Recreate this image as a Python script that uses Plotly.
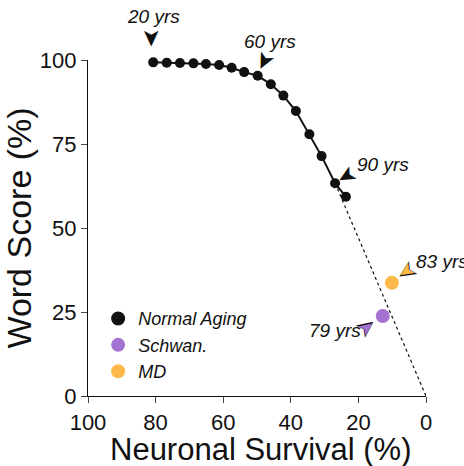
import plotly.graph_objects as go

# Normal aging (20..95 yrs in 5-yr steps)
aging_survival = [80.7, 76.7, 72.8, 68.8, 65.1, 61.2, 57.5, 53.8, 49.8, 45.9, 42.2, 38.5, 34.5, 30.9, 26.9, 23.7]
aging_score = [99.3, 99.2, 99.1, 99.0, 98.8, 98.5, 97.7, 96.4, 95.3, 92.8, 89.4, 84.8, 77.9, 71.4, 63.3, 59.3]

schwan_survival = [12.8]
schwan_score = [23.8]
md_survival = [10.1]
md_score = [33.7]

# extrapolation line from the 90-yr point to origin
extrap_x = [26.9, 0]
extrap_y = [63.3, 0]

x_ticks = [100, 80, 60, 40, 20, 0]
y_ticks = [0, 25, 50, 75, 100]

X_RANGE = [100, 0]
Y_RANGE = [0, 100]

# age labels (in data units)
age_labels = ["20 yrs", "60 yrs", "90 yrs", "83 yrs", "79 yrs"]
label_x = [80.5, 46.2, 12.8, -4.6, 26.8]
label_y = [112.8, 105.4, 68.8, 39.9, 19.6]
# arrowhead centres (data units) and pointing direction (screen degrees, clockwise from right)
head_x = [81.1, 47.6, 23.4, 5.6, 17.8]
head_y = [106.5, 99.7, 65.2, 36.9, 20.5]
head_dir = [90, 117, 150, 147, -37]
head_color = ["#111111", "#111111", "#111111", "#FDB94A", "#A473D1"]

BLACK = "#111111"
PURPLE = "#A473D1"
ORANGE = "#FDBA4B"
FONT = "Liberation Sans, Arial, sans-serif"


def to_paper(x, y):
    px = (x - X_RANGE[0]) / (X_RANGE[1] - X_RANGE[0])
    py = (y - Y_RANGE[0]) / (Y_RANGE[1] - Y_RANGE[0])
    return px, py


fig = go.Figure()

fig.add_trace(go.Scatter(x=extrap_x, y=extrap_y, mode="lines",
                         line=dict(color=BLACK, width=1.2, dash="3px,3px"),
                         showlegend=False, hoverinfo="skip"))
fig.add_trace(go.Scatter(x=aging_survival, y=aging_score, mode="lines+markers",
                         line=dict(color=BLACK, width=2),
                         marker=dict(color=BLACK, size=10),
                         showlegend=False, cliponaxis=False))
fig.add_trace(go.Scatter(x=schwan_survival, y=schwan_score, mode="markers",
                         marker=dict(color=PURPLE, size=14),
                         showlegend=False, cliponaxis=False))
fig.add_trace(go.Scatter(x=md_survival, y=md_score, mode="markers",
                         marker=dict(color=ORANGE, size=14),
                         showlegend=False, cliponaxis=False))

# legend entries
for name, col in [("Normal Aging", BLACK), ("Schwan.", PURPLE), ("MD", ORANGE)]:
    fig.add_trace(go.Scatter(x=[None], y=[None], mode="markers", name=name,
                             marker=dict(color=col, size=14)))

for t, tx, ty in zip(age_labels, label_x, label_y):
    px, py = to_paper(tx, ty)
    fig.add_annotation(x=px, y=py, xref="paper", yref="paper", text=f"<i>{t}</i>",
                       xanchor="center", yanchor="middle",
                       showarrow=False, font=dict(size=19, color=BLACK, family=FONT))

for hx, hy, d, col in zip(head_x, head_y, head_dir, head_color):
    px, py = to_paper(hx, hy)
    if col != BLACK:
        fig.add_annotation(x=px, y=py, xref="paper", yref="paper", text="\u27A4",
                           xanchor="center", yanchor="middle", textangle=d,
                           showarrow=False, font=dict(size=24, color=BLACK, family="DejaVu Sans"))
        fig.add_annotation(x=px, y=py, xref="paper", yref="paper", text="\u27A4",
                           xanchor="center", yanchor="middle", textangle=d,
                           showarrow=False, font=dict(size=19, color=col, family="DejaVu Sans"))
    else:
        fig.add_annotation(x=px, y=py, xref="paper", yref="paper", text="\u27A4",
                           xanchor="center", yanchor="middle", textangle=d,
                           showarrow=False, font=dict(size=23, color=col, family="DejaVu Sans"))

# x-axis title placed as paper annotation
fig.add_annotation(x=0.512, y=-0.158, xref="paper", yref="paper",
                   text="Neuronal Survival (%)", xanchor="center", yanchor="middle",
                   showarrow=False, font=dict(size=31, color=BLACK, family=FONT))

fig.update_layout(
    width=464, height=466,
    margin=dict(l=88, r=38, t=60, b=70),
    paper_bgcolor="white", plot_bgcolor="white",
    font=dict(family=FONT, color=BLACK),
    legend=dict(x=0.03, y=0.285, xanchor="left", yanchor="top",
                font=dict(size=18, family=FONT, style="italic"),
                bgcolor="rgba(0,0,0,0)", tracegroupgap=0, itemsizing="trace"),
)
fig.update_xaxes(range=X_RANGE, tickvals=x_ticks, ticks="outside", ticklen=6,
                 tickwidth=1.3, showline=True, linecolor=BLACK, linewidth=1.3,
                 showgrid=False, zeroline=False,
                 tickfont=dict(size=22, family=FONT))
fig.update_yaxes(range=Y_RANGE, tickvals=y_ticks, ticks="outside", ticklen=6,
                 tickwidth=1.3, showline=True, linecolor=BLACK, linewidth=1.3,
                 showgrid=False, zeroline=False,
                 tickfont=dict(size=22, family=FONT),
                 title=dict(text="Word Score (%)", font=dict(size=34, family=FONT), standoff=0))

fig.write_html("out.html")
